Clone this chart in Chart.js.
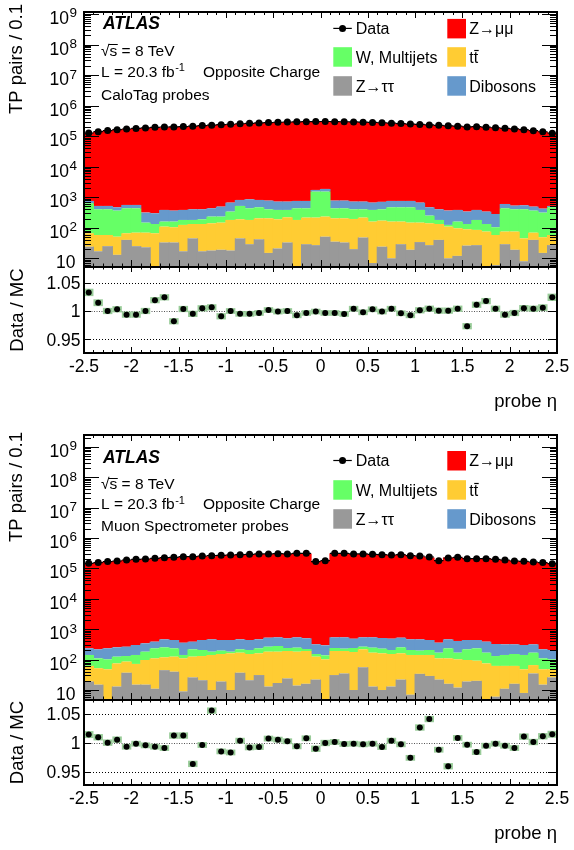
<!DOCTYPE html>
<html>
<head>
<meta charset="utf-8">
<title>Tag-and-probe pairs vs probe eta</title>
<script src="https://cdn.jsdelivr.net/npm/chart.js@4.4.1/dist/chart.umd.min.js"></script>
<style>
  html, body { margin: 0; padding: 0; background: #ffffff; }
  #page { position: relative; width: 574px; height: 850px; overflow: hidden; }
  #page canvas { position: absolute; left: 0; }
</style>
</head>
<body>
<div id="page">
  <canvas id="caloMain" width="574" height="425" style="top:0px"></canvas>
  <canvas id="caloRatio" width="574" height="425" style="top:0px"></canvas>
  <canvas id="msMain" width="574" height="425" style="top:425px"></canvas>
  <canvas id="msRatio" width="574" height="425" style="top:425px"></canvas>
</div>
<script>
"use strict";

// bin centres in probe eta (bins of 0.1)
const etaCentres = [
  -2.45, -2.35, -2.25, -2.15, -2.05, -1.95, -1.85, -1.75, -1.65, -1.55,
  -1.45, -1.35, -1.25, -1.15, -1.05, -0.95, -0.85, -0.75, -0.65, -0.55,
  -0.45, -0.35, -0.25, -0.15, -0.05, 0.05, 0.15, 0.25, 0.35, 0.45,
  0.55, 0.65, 0.75, 0.85, 0.95, 1.05, 1.15, 1.25, 1.35, 1.45,
  1.55, 1.65, 1.75, 1.85, 1.95, 2.05, 2.15, 2.25, 2.35, 2.45
];
const etaTicks = [-2.5, -2, -1.5, -1, -0.5, 0, 0.5, 1, 1.5, 2, 2.5];
const etaTickLabels = ['-2.5', '-2', '-1.5', '-1', '-0.5', '0', '0.5', '1', '1.5', '2', '2.5'];
const countTicks = [10, 1e2, 1e3, 1e4, 1e5, 1e6, 1e7, 1e8, 1e9];
const countTickExponents = ['', '2', '3', '4', '5', '6', '7', '8', '9'];
const ratioTicks = [0.95, 1, 1.05];
const ratioTickLabels = ['0.95', '1', '1.05'];

// CaloTag probes
const caloData = [
  126000, 140000, 152000, 163000, 171000, 179000, 186000, 194000, 199000, 200000,
  206000, 212000, 221000, 228000, 237000, 245000, 254000, 263000, 270000, 278000,
  285000, 290000, 294000, 297000, 300000, 301000, 298000, 296000, 292000, 287000,
  281000, 274000, 266000, 258000, 249000, 241000, 233000, 226000, 218000, 212000,
  200000, 204000, 197000, 188000, 180000, 172000, 163000, 151000, 139000, 125000
];
const caloZmumu = [
  121200, 137500, 151500, 162000, 171500, 179600, 185700, 190100, 193900, 203300,
  204900, 212700, 219600, 226100, 238700, 244300, 254500, 263400, 270100, 276700,
  284600, 289300, 295500, 297300, 298600, 300200, 298300, 296800, 290100, 286900,
  279500, 273600, 264200, 258300, 250200, 240000, 231600, 225500, 217500, 210800,
  205200, 201400, 193300, 187000, 180600, 172100, 161700, 149900, 137800, 121600
];
const caloDiboson = [
  122, 116, 116, 104, 124, 124, 166, 165, 224, 205,
  203, 222, 213, 202, 260, 328, 295, 421, 345, 372,
  335, 335, 321, 321, 205, 341, 340, 340, 316, 316,
  283, 303, 287, 287, 287, 283, 218, 222, 240, 224,
  205, 203, 205, 179, 167, 129, 142, 128, 110, 50
];
const caloWjets = [
  567, 344, 344, 313, 368, 365, 78, 67, 50, 55,
  56, 47, 56, 92, 85, 158, 329, 254, 264, 198,
  194, 163, 254, 219, 1310, 1293, 230, 230, 208, 187,
  224, 231, 309, 309, 321, 236, 110, 47, 15, 63,
  44, 95, 58, 46, 359, 327, 357, 295, 264, 410
];
const caloTtbar = [
  42, 41, 33, 38, 26, 44, 46, 66, 76, 71,
  107, 88, 116, 122, 128, 162, 144, 151, 162, 189,
  168, 187, 180, 186, 188, 181, 169, 171, 174, 167,
  152, 147, 149, 130, 128, 113, 113, 93, 99, 84,
  63, 58, 75, 52, 46, 56, 37, 29, 34, 31
];
const caloZtautau = [
  24, 17, 25, 13, 40, 25, 23, 0, 33, 33,
  17, 45, 17, 18, 19, 18, 45, 29, 42, 15,
  21, 33, 0, 29, 27, 51, 35, 33, 20, 48,
  7, 24, 10, 29, 19, 34, 27, 40, 10, 12,
  26, 27, 0, 6, 29, 19, 8, 40, 15, 27
];
const caloRatio = [
  1.0326, 1.0145, 1.000, 1.003, 0.9936, 0.9936, 1.000, 1.019, 1.024, 0.982,
  1.0035, 0.995, 1.0047, 1.0064, 0.9907, 1.000, 0.995, 0.995, 0.9965, 1.0017,
  0.999, 1.000, 0.9924, 0.9965, 0.999, 0.9965, 0.9965, 0.9948, 1.004, 0.9977,
  1.003, 0.999, 1.004, 0.996, 0.9924, 1.0012, 1.004, 1.0006, 1.0006, 1.004,
  0.9733, 1.011, 1.0174, 1.004, 0.9936, 0.9965, 1.005, 1.004, 1.0058, 1.024
];
const caloRatioErr = [
  0.0065, 0.006, 0.0055, 0.0055, 0.0055, 0.0055, 0.0055, 0.0055, 0.0055, 0.0055,
  0.0055, 0.0055, 0.0055, 0.0055, 0.0055, 0.005, 0.005, 0.005, 0.005, 0.005,
  0.005, 0.005, 0.005, 0.005, 0.005, 0.005, 0.005, 0.005, 0.005, 0.005,
  0.005, 0.005, 0.005, 0.005, 0.005, 0.0055, 0.0055, 0.0055, 0.0055, 0.0055,
  0.0055, 0.0055, 0.0055, 0.0055, 0.0055, 0.0055, 0.0055, 0.0055, 0.006, 0.0065
];

// Muon Spectrometer probes
const msData = [
  147000, 155000, 167000, 175000, 189000, 199000, 204000, 214000, 225000, 231000,
  243000, 243000, 256000, 262000, 269000, 276000, 283000, 290000, 298000, 298000,
  305000, 298000, 313000, 313000, 167000, 179000, 313000, 313000, 298000, 298000,
  290000, 283000, 276000, 283000, 262000, 256000, 237000, 180000, 220000, 231000,
  209000, 209000, 209000, 199000, 189000, 175000, 171000, 162000, 155000, 143000
];
const msZmumu = [
  144700, 153300, 166700, 173700, 189900, 198900, 204500, 215000, 226500, 227700,
  239500, 251700, 256500, 247700, 272500, 280200, 281400, 291800, 299600, 295300,
  302700, 296600, 314300, 310000, 168400, 178700, 312000, 313000, 297900, 298200,
  289800, 284500, 274400, 283200, 268400, 248800, 227200, 181700, 228700, 228600,
  209200, 211900, 209600, 198900, 189600, 176200, 168800, 161400, 153000, 140700
];
const msDiboson = [
  93, 108, 133, 128, 135, 160, 161, 154, 211, 207,
  218, 171, 235, 282, 245, 260, 246, 235, 229, 260,
  260, 260, 293, 278, 165, 156, 299, 311, 247, 274,
  293, 285, 281, 273, 257, 267, 235, 191, 229, 241,
  224, 207, 220, 195, 176, 165, 160, 149, 108, 105
];
const msWjets = [
  80, 58, 54, 50, 45, 70, 85, 125, 134, 110,
  32, 93, 76, 40, 44, 21, 49, 54, 74, 84,
  98, 49, 65, 31, 28, 36, 49, 37, 63, 48,
  78, 68, 54, 92, 65, 55, 65, 59, 125, 67,
  121, 143, 94, 69, 80, 91, 94, 103, 62, 54
];
const msTtbar = [
  43, 37, 48, 62, 49, 57, 82, 99, 74, 85,
  101, 99, 110, 132, 134, 151, 132, 132, 130, 169,
  165, 168, 168, 176, 103, 102, 161, 157, 168, 162,
  156, 151, 140, 139, 135, 108, 113, 88, 94, 90,
  78, 72, 75, 56, 51, 46, 40, 31, 33, 22
];
const msZtautau = [
  19, 15, 0, 13, 37, 15, 15, 11, 45, 40,
  9, 26, 21, 10, 19, 10, 37, 21, 31, 13,
  17, 24, 14, 16, 22, 0, 31, 35, 10, 56,
  13, 10, 13, 22, 7, 34, 29, 22, 16, 12,
  19, 20, 0, 6, 11, 16, 8, 35, 15, 26
];
const msRatio = [
  1.0145, 1.0099, 1.0006, 1.0058, 0.9936, 0.9988, 0.9959, 0.9936, 0.9913, 1.0128,
  1.0128, 0.964, 0.9965, 1.0558, 0.9855, 0.9837, 1.004, 0.9924, 0.993, 1.0076,
  1.0058, 1.003, 0.9942, 1.0081, 0.9901, 1.000, 1.0017, 0.9983, 0.9988, 0.9977,
  0.9988, 0.993, 1.004, 0.9977, 0.9744, 1.0267, 1.0413, 0.9884, 0.9599, 1.0087,
  0.9971, 0.9843, 0.9953, 0.9988, 0.9953, 0.9913, 1.011, 1.0017, 1.0116, 1.0151
];
const msRatioErr = [
  0.006, 0.0055, 0.0055, 0.0055, 0.005, 0.005, 0.005, 0.005, 0.005, 0.0055,
  0.0055, 0.0055, 0.005, 0.0055, 0.005, 0.005, 0.005, 0.005, 0.005, 0.005,
  0.005, 0.005, 0.005, 0.005, 0.0055, 0.0055, 0.005, 0.005, 0.005, 0.005,
  0.005, 0.005, 0.005, 0.005, 0.005, 0.0055, 0.0055, 0.005, 0.0055, 0.005,
  0.005, 0.005, 0.005, 0.005, 0.005, 0.005, 0.0055, 0.0055, 0.0055, 0.006
];

const COLORS = {
  zmumu: '#ff0000',
  wjets: '#66ff66',
  ttbar: '#ffcc33',
  ztautau: '#999999',
  diboson: '#6699cc',
  band: '#99cc99'
};
const FONT = '"Liberation Sans", Arial, Helvetica, sans-serif';

// pixel layout of the two stacked pads (page coordinates)
const layouts = {
  calo: {
    canvasTop: 0,
    main: { top: 12, bottom: 267, min: 5.19, max: 1.16e9 },
    ratio: { top: 267, bottom: 353, min: 0.9263, max: 1.0772 },
    atlasY: 28.5, sqrtsY: 55.7, lumiY: 76.7, probeY: 100,
    legendRows: [28.4, 56.7, 85.7],
    yTitleEnd: 4, xLabelY: 372, xTitleY: 407
  },
  ms: {
    canvasTop: 425,
    main: { top: 435, bottom: 700, min: 4.69, max: 2.44e9 },
    ratio: { top: 700, bottom: 785, min: 0.9276, max: 1.0741 },
    atlasY: 462.7, sqrtsY: 489, lumiY: 509, probeY: 531,
    legendRows: [460.5, 489.7, 518.7],
    yTitleEnd: 432, xLabelY: 804, xTitleY: 839
  }
};

function fontSpec(size, style) {
  return (style ? style + ' ' : '') + size + 'px ' + FONT;
}

function toPoints(values) {
  return values.map((value, i) => ({ x: etaCentres[i], y: value }));
}

// ROOT-style inward ticks along the eta axis: major every 0.5, minor every 0.1
function strokeEtaTicks(ctx, xScale, top, bottom, topLen, bottomLen) {
  for (let i = 0; i <= 50; i++) {
    const x = Math.round(xScale.getPixelForValue(-2.5 + i / 10)) + 0.5;
    const major = i % 5 === 0;
    ctx.moveTo(x, bottom);
    ctx.lineTo(x, bottom - (major ? bottomLen[0] : bottomLen[1]));
    ctx.moveTo(x, top);
    ctx.lineTo(x, top + (major ? topLen[0] : topLen[1]));
  }
}

function drawInfoBlock(ctx, layout, dy, probeText) {
  ctx.textAlign = 'left';
  ctx.textBaseline = 'alphabetic';
  ctx.font = fontSpec(17.5, 'italic bold');
  ctx.fillText('ATLAS', 103, layout.atlasY - dy);

  ctx.font = fontSpec(15.5);
  const sy = layout.sqrtsY - dy;
  ctx.fillText('√s = 8 TeV', 101, sy);
  const rootWidth = ctx.measureText('√').width;
  const sWidth = ctx.measureText('s').width;
  ctx.lineWidth = 1;
  ctx.beginPath();
  ctx.moveTo(101 + rootWidth - 1, Math.round(sy - 11.5) + 0.5);
  ctx.lineTo(101 + rootWidth + sWidth + 0.5, Math.round(sy - 11.5) + 0.5);
  ctx.stroke();

  const ly = layout.lumiY - dy;
  ctx.fillText('L = 20.3 fb', 101, ly);
  const lumiWidth = ctx.measureText('L = 20.3 fb').width;
  ctx.font = fontSpec(11);
  ctx.fillText('-1', 101 + lumiWidth + 0.5, ly - 5.5);
  ctx.font = fontSpec(15.5);
  ctx.fillText('Opposite Charge', 203, ly);
  ctx.fillText(probeText, 101, layout.probeY - dy);
}

function drawLegend(ctx, layout, dy) {
  const rows = layout.legendRows.map(r => r - dy);
  const entries = [
    { col: 0, row: 0, text: 'Data', marker: true },
    { col: 1, row: 0, text: 'Z→μμ', color: COLORS.zmumu },
    { col: 0, row: 1, text: 'W, Multijets', color: COLORS.wjets },
    { col: 1, row: 1, text: 'tt', color: COLORS.ttbar, bar: true },
    { col: 0, row: 2, text: 'Z→ττ', color: COLORS.ztautau },
    { col: 1, row: 2, text: 'Dibosons', color: COLORS.diboson }
  ];
  const boxLeft = [333.3, 447.3];
  const textLeft = [355.7, 469.3];
  ctx.font = fontSpec(16);
  ctx.textAlign = 'left';
  ctx.textBaseline = 'alphabetic';
  for (const entry of entries) {
    const cy = rows[entry.row];
    const bx = boxLeft[entry.col];
    if (entry.marker) {
      ctx.lineWidth = 1.2;
      ctx.beginPath();
      ctx.moveTo(bx, cy);
      ctx.lineTo(bx + 18.5, cy);
      ctx.stroke();
      ctx.beginPath();
      ctx.arc(bx + 9.25, cy, 3.5, 0, Math.PI * 2);
      ctx.fill();
    } else {
      ctx.fillStyle = entry.color;
      ctx.fillRect(bx, cy - 9.5, 18.7, 19.5);
      ctx.fillStyle = '#000';
    }
    const baseline = cy + 5.8;
    ctx.fillText(entry.text, textLeft[entry.col], baseline);
    if (entry.bar) {
      // anti-top bar over the second t
      const tWidth = ctx.measureText('t').width;
      const x0 = textLeft[entry.col] + tWidth;
      ctx.lineWidth = 1.2;
      ctx.beginPath();
      ctx.moveTo(x0 + 0.5, baseline - 12);
      ctx.lineTo(x0 + tWidth + 0.5, baseline - 12);
      ctx.stroke();
    }
  }
}

function mainOverlay(layout, probeText) {
  const dy = layout.canvasTop;
  return {
    id: 'mainOverlay',
    afterDatasetsDraw(chart) {
      // horizontal error bars of the data points (bin width)
      const ctx = chart.ctx;
      const xScale = chart.scales.x;
      const meta = chart.getDatasetMeta(0);
      ctx.save();
      ctx.strokeStyle = '#000';
      ctx.lineWidth = 1.2;
      ctx.beginPath();
      meta.data.forEach((point, i) => {
        const x0 = xScale.getPixelForValue(etaCentres[i] - 0.05);
        const x1 = xScale.getPixelForValue(etaCentres[i] + 0.05);
        ctx.moveTo(x0, point.y);
        ctx.lineTo(x1, point.y);
      });
      ctx.stroke();
      ctx.restore();
    },
    afterDraw(chart) {
      const ctx = chart.ctx;
      const { left, right, top, bottom } = chart.chartArea;
      const xScale = chart.scales.x;
      const yScale = chart.scales.y;
      ctx.save();
      ctx.strokeStyle = '#000';
      ctx.fillStyle = '#000';
      ctx.lineWidth = 1;
      ctx.beginPath();
      strokeEtaTicks(ctx, xScale, top, bottom, [6, 3], [7, 3.5]);
      for (let decade = 0; decade <= 9; decade++) {
        for (let m = 1; m <= 9; m++) {
          const value = m * Math.pow(10, decade);
          if (value < yScale.min || value > yScale.max) continue;
          const y = Math.round(yScale.getPixelForValue(value)) + 0.5;
          const len = m === 1 ? 15 : 7;
          ctx.moveTo(left, y);
          ctx.lineTo(left + len, y);
          ctx.moveTo(right, y);
          ctx.lineTo(right - len, y);
        }
      }
      ctx.stroke();
      ctx.lineWidth = 2;
      ctx.strokeRect(left, top, right - left, bottom - top);

      // y tick labels 10, 10^2 ... 10^9
      ctx.textBaseline = 'alphabetic';
      countTicks.forEach((value, i) => {
        const baseY = yScale.getPixelForValue(value) + 10;
        const exponent = countTickExponents[i];
        ctx.font = fontSpec(13.5);
        const expWidth = exponent ? ctx.measureText(exponent).width : 0;
        if (exponent) {
          ctx.textAlign = 'left';
          ctx.fillText(exponent, 77 - expWidth, baseY - 6.5);
        }
        ctx.font = fontSpec(17.5);
        ctx.textAlign = 'right';
        ctx.fillText('10', exponent ? 77 - expWidth - 0.5 : 75.5, baseY);
      });

      // vertical axis title
      ctx.save();
      ctx.font = fontSpec(18.5);
      ctx.translate(22, layout.yTitleEnd - dy);
      ctx.rotate(-Math.PI / 2);
      ctx.textAlign = 'right';
      ctx.fillText('TP pairs / 0.1', 0, 0);
      ctx.restore();

      drawInfoBlock(ctx, layout, dy, probeText);
      drawLegend(ctx, layout, dy);
      ctx.restore();
    }
  };
}

function ratioOverlay(layout) {
  const dy = layout.canvasTop;
  return {
    id: 'ratioOverlay',
    beforeDatasetsDraw(chart) {
      const ctx = chart.ctx;
      const { left, right } = chart.chartArea;
      const yScale = chart.scales.y;
      ctx.save();
      ctx.lineWidth = 1;
      for (const value of ratioTicks) {
        const y = Math.round(yScale.getPixelForValue(value)) + 0.5;
        ctx.strokeStyle = value === 1 ? '#555555' : '#000000';
        ctx.setLineDash(value === 1 ? [1, 1.5] : [1, 2]);
        ctx.beginPath();
        ctx.moveTo(left, y);
        ctx.lineTo(right, y);
        ctx.stroke();
      }
      ctx.restore();
    },
    afterDraw(chart) {
      const ctx = chart.ctx;
      const { left, right, top, bottom } = chart.chartArea;
      const xScale = chart.scales.x;
      const yScale = chart.scales.y;
      ctx.save();
      ctx.strokeStyle = '#000';
      ctx.fillStyle = '#000';
      ctx.lineWidth = 1;
      ctx.beginPath();
      strokeEtaTicks(ctx, xScale, top, bottom, [5, 2.5], [6, 3]);
      for (const value of ratioTicks) {
        const y = Math.round(yScale.getPixelForValue(value)) + 0.5;
        ctx.moveTo(left, y);
        ctx.lineTo(left + 7, y);
        ctx.moveTo(right, y);
        ctx.lineTo(right - 9, y);
      }
      ctx.stroke();
      ctx.lineWidth = 2;
      ctx.strokeRect(left, top, right - left, bottom - top);

      ctx.font = fontSpec(17.5);
      ctx.textBaseline = 'alphabetic';
      ctx.textAlign = 'right';
      ratioTicks.forEach((value, i) => {
        ctx.fillText(ratioTickLabels[i], 80.5, yScale.getPixelForValue(value) + 6.3);
      });
      ctx.textAlign = 'center';
      etaTicks.forEach((value, i) => {
        ctx.fillText(etaTickLabels[i], xScale.getPixelForValue(value), layout.xLabelY - dy);
      });

      ctx.font = fontSpec(18.5);
      ctx.textAlign = 'right';
      ctx.fillText('probe η', right, layout.xTitleY - dy);

      ctx.save();
      ctx.translate(23, (top + bottom) / 2);
      ctx.rotate(-Math.PI / 2);
      ctx.textAlign = 'center';
      ctx.fillText('Data / MC', 0, 0);
      ctx.restore();
      ctx.restore();
    }
  };
}

function baseOptions(layout, area, yScale) {
  const dy = layout.canvasTop;
  return {
    responsive: false,
    animation: false,
    devicePixelRatio: 1,
    events: [],
    layout: { padding: { left: 84, right: 17, top: area.top - dy, bottom: 425 - (area.bottom - dy) } },
    plugins: { legend: { display: false }, tooltip: { enabled: false } },
    datasets: { bar: { barPercentage: 1, categoryPercentage: 1, borderWidth: 0 } },
    scales: {
      x: { type: 'linear', min: -2.5, max: 2.5, offset: false, bounds: 'data', display: false },
      y: yScale
    }
  };
}

function makeMainChart(canvasId, layout, series, probeText) {
  const area = layout.main;
  // neighbouring bins overlap slightly so no anti-aliased seams show between them
  const hist = { barPercentage: 1.12, inflateAmount: 0, stack: 'mc' };
  return new Chart(document.getElementById(canvasId), {
    type: 'bar',
    data: {
      datasets: [
        { type: 'line', label: 'Data', data: toPoints(series.data), stack: 'data', order: -1,
          showLine: false, pointRadius: 3.5, pointBackgroundColor: '#000', pointBorderWidth: 0 },
        { ...hist, label: 'Z→ττ', data: toPoints(series.ztautau), backgroundColor: COLORS.ztautau },
        { ...hist, label: 'tt', data: toPoints(series.ttbar), backgroundColor: COLORS.ttbar },
        { ...hist, label: 'W, Multijets', data: toPoints(series.wjets), backgroundColor: COLORS.wjets },
        { ...hist, label: 'Dibosons', data: toPoints(series.diboson), backgroundColor: COLORS.diboson },
        { ...hist, label: 'Z→μμ', data: toPoints(series.zmumu), backgroundColor: COLORS.zmumu }
      ]
    },
    options: baseOptions(layout, area, {
      type: 'logarithmic', min: area.min, max: area.max, stacked: true, bounds: 'data', display: false
    }),
    plugins: [mainOverlay(layout, probeText)]
  });
}

function makeRatioChart(canvasId, layout, ratio, ratioErr) {
  const area = layout.ratio;
  return new Chart(document.getElementById(canvasId), {
    type: 'bar',
    data: {
      datasets: [
        { type: 'scatter', label: 'Data / MC', data: toPoints(ratio), order: -1,
          pointRadius: 3, pointBackgroundColor: '#000', pointBorderWidth: 0 },
        { label: 'MC uncertainty',
          data: ratio.map((r, i) => ({ x: etaCentres[i], y: [r - ratioErr[i], r + ratioErr[i]] })),
          backgroundColor: COLORS.band, inflateAmount: 0 }
      ]
    },
    options: baseOptions(layout, area, {
      type: 'linear', min: area.min, max: area.max, bounds: 'data', display: false
    }),
    plugins: [ratioOverlay(layout)]
  });
}

makeMainChart('caloMain', layouts.calo, {
  data: caloData, zmumu: caloZmumu, diboson: caloDiboson,
  wjets: caloWjets, ttbar: caloTtbar, ztautau: caloZtautau
}, 'CaloTag probes');
makeRatioChart('caloRatio', layouts.calo, caloRatio, caloRatioErr);

makeMainChart('msMain', layouts.ms, {
  data: msData, zmumu: msZmumu, diboson: msDiboson,
  wjets: msWjets, ttbar: msTtbar, ztautau: msZtautau
}, 'Muon Spectrometer probes');
makeRatioChart('msRatio', layouts.ms, msRatio, msRatioErr);
</script>
</body>
</html>
